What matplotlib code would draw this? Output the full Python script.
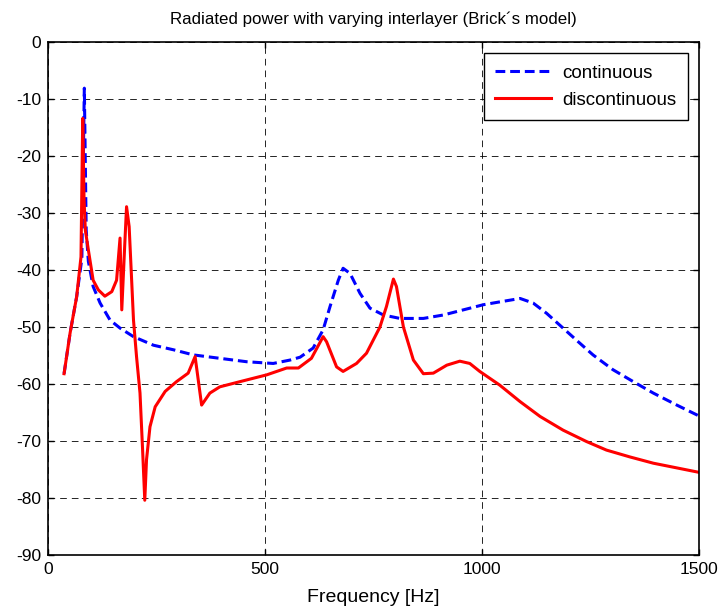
import numpy as np
import matplotlib
matplotlib.use("Agg")
import matplotlib.pyplot as plt

plt.rcParams['font.family'] = ['Liberation Sans', 'DejaVu Sans']
plt.rcParams['axes.unicode_minus'] = False

# --- donnees ---
f_cont = [37, 51, 66, 78, 83.7, 88, 93, 104, 120, 143, 166, 197, 243, 289, 335, 396,
          458, 519, 558, 581, 611, 634, 650, 669, 680, 696, 719, 742, 773, 811, 865,
          911, 957, 1003, 1041, 1088, 1118, 1149, 1187, 1222, 1256, 1302, 1349, 1395,
          1449, 1500]
p_cont = [-58.2, -51, -44.7, -38, -8.1, -33, -38.5, -42.9, -45.8, -48.8, -50.2, -51.7,
          -53.2, -54, -54.9, -55.5, -56.1, -56.4, -55.8, -55.3, -53.7, -50.5, -46.4,
          -41.8, -39.7, -40.6, -44.1, -46.7, -47.9, -48.5, -48.5, -47.9, -47, -46.1,
          -45.6, -45, -45.8, -47.6, -50.2, -52.6, -54.9, -57.5, -59.6, -61.6, -63.7,
          -65.6]

f_disc = [37, 51, 66, 76, 80, 83, 86, 93, 104, 116, 131, 147, 158, 166, 170, 177, 181,
          187, 197, 204, 212, 218, 223, 227, 235, 247, 270, 296, 323, 339, 354, 373,
          396, 442, 504, 550, 577, 607, 634, 642, 665, 680, 711, 734, 765, 780, 796,
          803, 819, 842, 865, 888, 919, 949, 972, 995, 1041, 1088, 1134, 1187, 1241,
          1287, 1341, 1395, 1441, 1500]
p_disc = [-58.2, -51, -44.7, -37.7, -13.4, -27.5, -33, -36.5, -41.8, -43.5, -44.6,
          -43.8, -41.8, -34.4, -47, -35.3, -28.9, -32.4, -48.8, -55.2, -61.6, -71.6,
          -80.4, -73.3, -67.5, -64, -61.3, -59.6, -58.1, -55.2, -63.7, -61.6, -60.5,
          -59.6, -58.4, -57.2, -57.2, -55.5, -51.7, -52.6, -57, -57.8, -56.4, -54.6,
          -50, -46.4, -41.6, -42.9, -50, -55.8, -58.2, -58.1, -56.7, -56, -56.4, -57.8,
          -60.2, -63.1, -65.7, -68.1, -70.1, -71.6, -72.8, -73.9, -74.6, -75.5]

x_ticks = [0, 500, 1000, 1500]
y_ticks = [0, -10, -20, -30, -40, -50, -60, -70, -80, -90]

# --- figure ---
fig = plt.figure(figsize=(7.22, 6.11), dpi=100)
ax = fig.add_axes([0.0665, 0.0917, 0.9015, 0.8396])

ax.plot(f_cont, p_cont, color='blue', linestyle=(0, (3.2, 1.6)), linewidth=2.2,
        label='continuous')
ax.plot(f_disc, p_disc, color='red', linewidth=2.2, label='discontinuous')

ax.set_xlim(0, 1500)
ax.set_ylim(-90, 0)
ax.set_xticks(x_ticks)
ax.set_yticks(y_ticks)
ax.tick_params(direction='in', top=True, right=True, labelsize=12.5, length=4, width=1,
               pad=5)
ax.grid(True, color='black', linestyle=(0, (8, 6)), linewidth=0.6)
for s in ax.spines.values():
    s.set_linewidth(1.2)

ax.set_title("Radiated power with varying interlayer (Brick\u00b4s model)", fontsize=12.2, pad=13)
ax.set_xlabel('Frequency [Hz]', fontsize=14, labelpad=9)

leg = ax.legend(loc='upper right', fontsize=13.5, fancybox=False, framealpha=1,
                edgecolor='black', borderaxespad=0.6, handlelength=3.0,
                handletextpad=0.6, borderpad=0.6, labelspacing=0.55)
leg.get_frame().set_linewidth(1.0)

fig.savefig('out.png', dpi=100)
